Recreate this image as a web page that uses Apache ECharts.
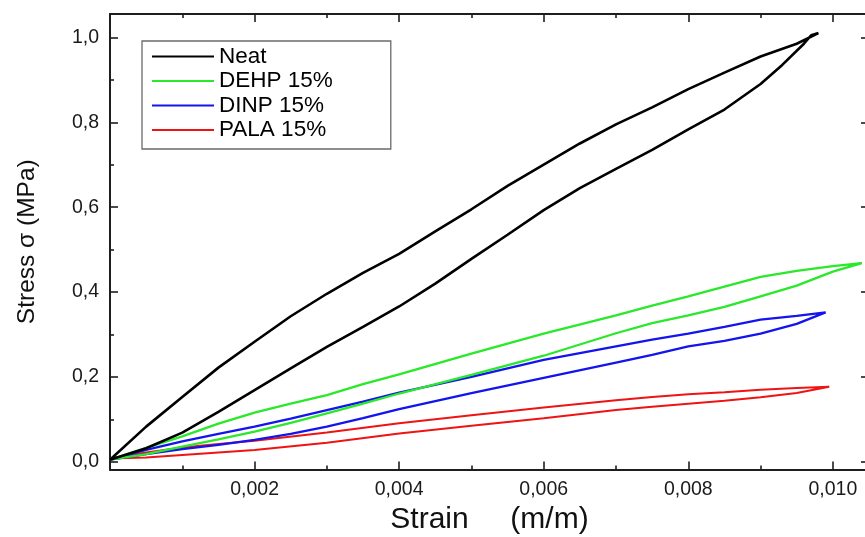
<!DOCTYPE html>
<html>
<head>
<meta charset="utf-8">
<title>Stress-strain hysteresis loops</title>
<script src="https://cdn.jsdelivr.net/npm/echarts@6/dist/echarts.min.js"></script>
<style>
  html, body { margin: 0; padding: 0; background: #ffffff; }
  #chart { width: 865px; height: 537px; }
</style>
</head>
<body>
<div id="chart"></div>
<script>
// Loading / unloading loops: strain (m/m) and stress (MPa), traced around each loop
const neatStrain = [0, 0.0005, 0.001, 0.0015, 0.002, 0.0025, 0.003, 0.0035, 0.004, 0.0045, 0.005, 0.0055, 0.006, 0.0065, 0.007, 0.0075, 0.008, 0.0085, 0.009, 0.0093, 0.0096, 0.0097,
  0.0098, 0.0095, 0.009, 0.0085, 0.008, 0.0075, 0.007, 0.0065, 0.006, 0.0055, 0.005, 0.0045, 0.004, 0.0035, 0.003, 0.0025, 0.002, 0.0015, 0.001, 0.0005, 0];
const neatStress = [0.005, 0.032, 0.069, 0.118, 0.169, 0.22, 0.271, 0.318, 0.366, 0.42, 0.478, 0.535, 0.593, 0.645, 0.69, 0.735, 0.783, 0.83, 0.89, 0.935, 0.985, 1.005,
  1.01, 0.985, 0.955, 0.917, 0.878, 0.835, 0.795, 0.75, 0.70, 0.65, 0.595, 0.543, 0.49, 0.445, 0.396, 0.343, 0.283, 0.222, 0.153, 0.083, 0.005];

const dehpStrain = [0, 0.0005, 0.001, 0.0015, 0.002, 0.0025, 0.003, 0.0035, 0.004, 0.005, 0.006, 0.007, 0.0075, 0.008, 0.0085, 0.009, 0.0095, 0.01, 0.0104,
  0.0104, 0.01, 0.0095, 0.009, 0.0085, 0.008, 0.0075, 0.007, 0.006, 0.005, 0.004, 0.0035, 0.003, 0.0025, 0.002, 0.0015, 0.001, 0.0005, 0];
const dehpStress = [0.005, 0.018, 0.036, 0.053, 0.071, 0.092, 0.114, 0.137, 0.161, 0.205, 0.25, 0.303, 0.327, 0.345, 0.365, 0.39, 0.415, 0.448, 0.468,
  0.468, 0.461, 0.45, 0.436, 0.413, 0.39, 0.368, 0.345, 0.302, 0.255, 0.206, 0.183, 0.157, 0.137, 0.116, 0.09, 0.06, 0.033, 0.005];

const dinpStrain = [0, 0.0005, 0.001, 0.0015, 0.002, 0.0025, 0.003, 0.0035, 0.004, 0.005, 0.006, 0.007, 0.0075, 0.008, 0.0085, 0.009, 0.0095, 0.0099,
  0.0099, 0.0095, 0.009, 0.0085, 0.008, 0.0075, 0.007, 0.006, 0.005, 0.004, 0.0035, 0.003, 0.0025, 0.002, 0.0015, 0.001, 0.0005, 0];
const dinpStress = [0.005, 0.018, 0.03, 0.04, 0.052, 0.066, 0.083, 0.103, 0.124, 0.162, 0.198, 0.234, 0.252, 0.272, 0.285, 0.302, 0.325, 0.352,
  0.352, 0.344, 0.335, 0.318, 0.302, 0.288, 0.272, 0.24, 0.2, 0.163, 0.142, 0.122, 0.102, 0.083, 0.066, 0.048, 0.028, 0.005];

const palaStrain = [0, 0.0005, 0.001, 0.0015, 0.002, 0.003, 0.004, 0.005, 0.006, 0.007, 0.0075, 0.008, 0.0085, 0.009, 0.0095, 0.00995,
  0.00995, 0.0095, 0.009, 0.0085, 0.008, 0.0075, 0.007, 0.006, 0.005, 0.004, 0.003, 0.002, 0.0015, 0.001, 0.0005, 0];
const palaStress = [0.008, 0.01, 0.016, 0.022, 0.028, 0.045, 0.067, 0.085, 0.103, 0.122, 0.13, 0.137, 0.144, 0.152, 0.162, 0.177,
  0.177, 0.174, 0.17, 0.164, 0.159, 0.153, 0.145, 0.128, 0.11, 0.091, 0.069, 0.05, 0.042, 0.034, 0.022, 0.008];

const seriesNames = ['Neat', 'DEHP 15%', 'DINP 15%', 'PALA 15%'];

// Tick positions
const strainMajor = [0, 0.002, 0.004, 0.006, 0.008, 0.010];
const strainLabels = [0.002, 0.004, 0.006, 0.008, 0.010];
const strainMinor = [0.001, 0.003, 0.005, 0.007, 0.009];
const stressMajor = [0, 0.2, 0.4, 0.6, 0.8, 1.0];
const stressMinor = [0.1, 0.3, 0.5, 0.7, 0.9];

const FONT = '"Liberation Sans", Arial, sans-serif';
const AXIS_COLOR = '#1e1e1e';
const X_MIN = 0, X_MAX = 0.0105;
const Y_MIN = -0.018, Y_MAX = 1.055;

function pairs(xs, ys) {
  return xs.map(function (x, i) { return [x, ys[i]]; });
}
function comma(v, digits) {
  return v.toFixed(digits).replace('.', ',');
}

function makeAxis(kind, position, ticks, tickLen, withLine, labels, labelDigits) {
  return {
    type: 'value',
    position: position,
    min: kind === 'x' ? X_MIN : Y_MIN,
    max: kind === 'x' ? X_MAX : Y_MAX,
    axisLine: { show: withLine, onZero: false, lineStyle: { color: AXIS_COLOR, width: 2 } },
    axisTick: { show: true, inside: true, length: tickLen, customValues: ticks,
                lineStyle: { color: AXIS_COLOR, width: 1.6 } },
    axisLabel: labels ? {
      show: true, customValues: labels, margin: kind === 'x' ? 10 : 11,
      fontFamily: FONT, fontSize: 19.5, color: '#1a1a1a',
      formatter: function (v) { return comma(v, labelDigits); }
    } : { show: false },
    splitLine: { show: false },
    minorTick: { show: false },
    silent: true
  };
}

const xAxes = [
  makeAxis('x', 'bottom', strainMajor, 8, true, strainLabels, 3),
  makeAxis('x', 'bottom', strainMinor, 4, false, null),
  makeAxis('x', 'top', strainMajor, 8, true, null),
  makeAxis('x', 'top', strainMinor, 4, false, null)
];
xAxes[0].name = 'Strain     (m/m)';
xAxes[0].nameLocation = 'middle';
xAxes[0].nameGap = 35;
xAxes[0].nameTextStyle = { fontFamily: FONT, fontSize: 30, color: '#111' };

const yAxes = [
  makeAxis('y', 'left', stressMajor, 8, true, stressMajor, 1),
  makeAxis('y', 'left', stressMinor, 4, false, null),
  makeAxis('y', 'right', stressMajor, 8, true, null),
  makeAxis('y', 'right', stressMinor, 4, false, null)
];
yAxes[0].name = 'Stress σ (MPa)';
yAxes[0].nameLocation = 'middle';
yAxes[0].nameGap = 70;
yAxes[0].nameTextStyle = { fontFamily: FONT, fontSize: 24.5, color: '#111' };

const colors = ['#000000', '#2ae82a', '#1414ee', '#ee1414'];
const widths = [2.6, 2.3, 2.3, 2];
const loops = [
  pairs(neatStrain, neatStress),
  pairs(dehpStrain, dehpStress),
  pairs(dinpStrain, dinpStress),
  pairs(palaStrain, palaStress)
];

const series = seriesNames.map(function (name, i) {
  return {
    name: name,
    type: 'line',
    data: loops[i],
    xAxisIndex: 0,
    yAxisIndex: 0,
    showSymbol: false,
    symbol: 'none',
    smooth: false,
    clip: true,
    color: colors[i],
    lineStyle: { color: colors[i], width: widths[i] },
    z: 4 - i
  };
});

const chart = echarts.init(document.getElementById('chart'), null, { renderer: 'canvas' });
chart.setOption({
  animation: false,
  backgroundColor: '#ffffff',
  grid: { left: 110, top: 14, width: 759, height: 455.5, containLabel: false, outerBoundsMode: 'none' },
  xAxis: xAxes,
  yAxis: yAxes,
  legend: {
    orient: 'vertical',
    left: 142,
    top: 41,
    padding: [3.5, 58, 7, 10],
    itemGap: 0.5,
    itemWidth: 62,
    itemHeight: 2,
    icon: 'rect',
    borderColor: '#6a6a6a',
    borderWidth: 1.3,
    backgroundColor: '#ffffff',
    data: seriesNames,
    textStyle: { fontFamily: FONT, fontSize: 22.5, color: '#000', lineHeight: 24 }
  },
  series: series
});
</script>
</body>
</html>
